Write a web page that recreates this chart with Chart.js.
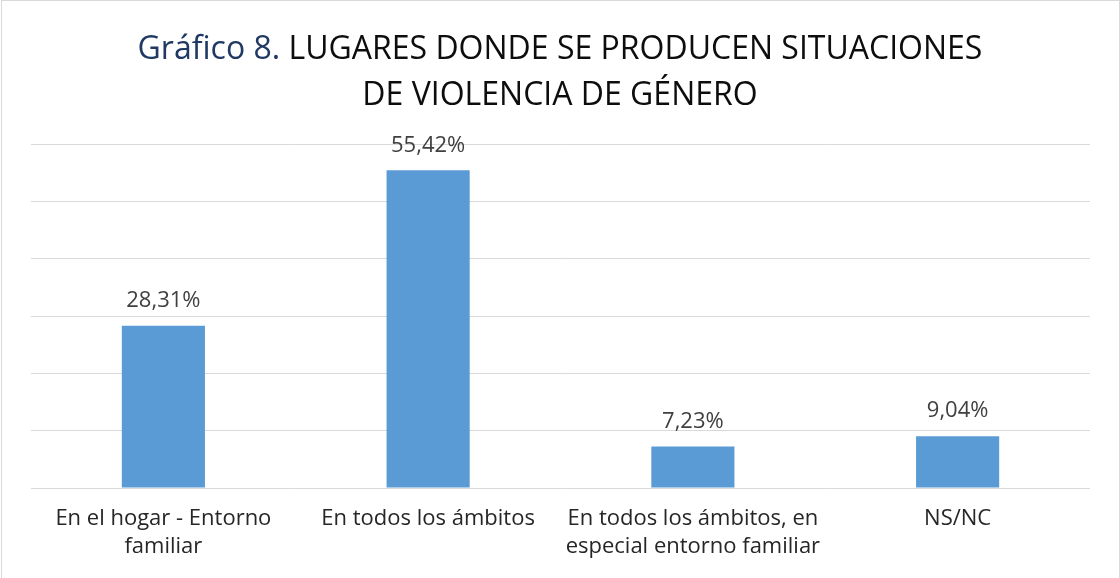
<!DOCTYPE html>
<html lang="es">
<head>
<meta charset="utf-8">
<title>Gráfico 8</title>
<script src="https://cdn.jsdelivr.net/npm/chart.js@4.4.1/dist/chart.umd.min.js"></script>
<style>
  html, body { margin: 0; padding: 0; background: #fff; }
  #wrap {
    position: relative;
    width: 1120px;
    height: 578px;
    overflow: hidden;
  }
  #frame {
    position: absolute;
    left: 1px; top: 0; right: 0; bottom: -2px;
    border: 1px solid #d9d9d9;
    pointer-events: none;
  }
  #title {
    position: absolute;
    left: 0; top: 24px; width: 1120px;
    text-align: center;
    font-family: "Open Sans", Lato, sans-serif;
    font-size: 32px;
    line-height: 46px;
    color: #0d0d0d;
  }
  #title .lead { color: #1f3864; }
  #chartBox { position: absolute; left: 0; top: 0; width: 1120px; height: 578px; }
</style>
</head>
<body>
<div id="wrap">
  <div id="chartBox"><canvas id="barChart" width="1120" height="578"></canvas></div>
  <div id="title"><span class="lead">Gráfico 8.</span> LUGARES DONDE SE PRODUCEN SITUACIONES<br>DE VIOLENCIA DE GÉNERO</div>
  <div id="frame"></div>
</div>

<script>
/* ---- data ---- */
const categories = [
    ["En el hogar - Entorno", "familiar"],
    "En todos los ámbitos",
    ["En todos los ámbitos, en", "especial entorno familiar"],
    "NS/NC"
];
const percentages = [28.31, 55.42, 7.23, 9.04];
const yTicks = [0, 10, 20, 30, 40, 50, 60];

/* ---- value labels above bars (comma decimal) ---- */
const valueLabels = {
    id: "valueLabels",
    afterDatasetsDraw(chart) {
        const ctx = chart.ctx;
        const meta = chart.getDatasetMeta(0);
        ctx.save();
        ctx.font = "22px 'Open Sans', Lato, sans-serif";
        ctx.fillStyle = "#404040";
        ctx.textAlign = "center";
        ctx.textBaseline = "middle";
        meta.data.forEach((bar, i) => {
            const txt = percentages[i].toFixed(2).replace(".", ",") + "%";
            ctx.fillText(txt, bar.x, bar.y - 25);
        });
        ctx.restore();
    }
};

const ctx = document.getElementById("barChart").getContext("2d");

new Chart(ctx, {
    type: "bar",
    data: {
        labels: categories,
        datasets: [{
            data: percentages,
            backgroundColor: "#5b9bd5",
            borderWidth: 0,
            categoryPercentage: 1,
            barPercentage: 0.314
        }]
    },
    options: {
        responsive: false,
        animation: false,
        layout: { padding: { left: 31, right: 30, top: 144, bottom: 0 } },
        plugins: {
            legend: { display: false },
            title: { display: false },
            tooltip: { enabled: false }
        },
        scales: {
            x: {
                grid: { display: false, drawTicks: false },
                border: { display: false },
                ticks: {
                    color: "#262626",
                    padding: 17,
                    font: { family: "'Open Sans', Lato, sans-serif", size: 22, lineHeight: 1.27 },
                    maxRotation: 0,
                    autoSkip: false
                },
                afterFit(scale) { scale.height = 90; }
            },
            y: {
                min: yTicks[0],
                max: yTicks[yTicks.length - 1],
                afterBuildTicks(scale) { scale.ticks = yTicks.map(v => ({ value: v })); },
                ticks: { display: false },
                grid: { color: "#d9d9d9", lineWidth: 1, drawTicks: false },
                border: { display: false },
                afterFit(scale) { scale.width = 0; }
            }
        }
    },
    plugins: [valueLabels]
});
</script>
</body>
</html>
